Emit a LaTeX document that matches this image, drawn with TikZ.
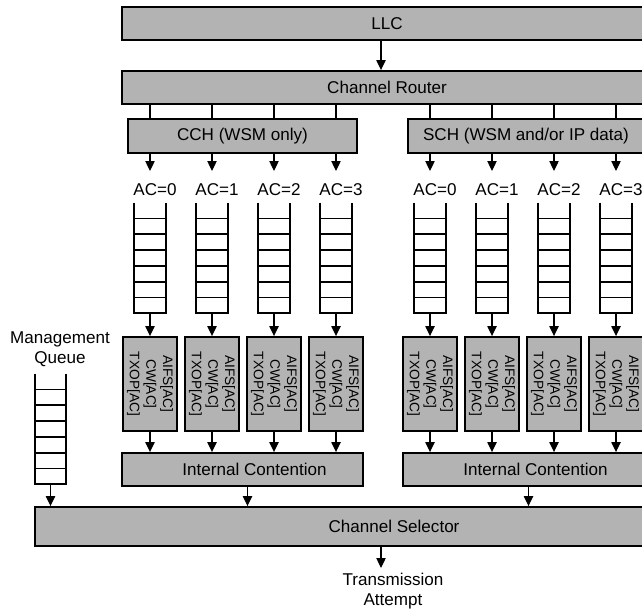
\documentclass[tikz,border=0pt]{standalone}
\usepackage{fontspec}
\setmainfont{Liberation Sans}
\usepackage{xcolor}
\usetikzlibrary{arrows.meta}
\usetikzlibrary{calc}
\definecolor{boxgray}{RGB}{179,179,179}

\tikzset{
  box/.style={draw=black, fill=boxgray, line width=1.4pt, inner sep=0pt, font=\fontsize{12.8}{15}\selectfont},
  parbox/.style={box, rotate=-90, align=center, minimum width=70.5pt, minimum height=40.5pt, font=\fontsize{10.3}{12.5}\selectfont},
  queue/.style={inner sep=0pt, minimum width=23.25pt, minimum height=82.5pt},
  lbl/.style={inner sep=0pt, align=center, font=\fontsize{12.8}{15}\selectfont},
  arr/.style={line width=0.9pt, -{Triangle[length=7.5pt,width=7pt]}},
  tick/.style={line width=1pt},
}

% open ladder: two rails, bottom and six rungs
\newcommand{\drawqueue}[1]{%
  \draw[line width=1.4pt] (#1.north west) -- (#1.south west) -- (#1.south east) -- (#1.north east);
  \foreach \r in {1,...,6}
    \draw[line width=1.4pt] ($(#1.north west)!\r/7!(#1.south west)$) -- ($(#1.north east)!\r/7!(#1.south east)$);
}

\begin{document}
\begin{tikzpicture}[x=0.75pt,y=-0.75pt]
  \useasboundingbox (0,0) rectangle (642,608);
  \clip (0,0) rectangle (642,608);
  \def\dx{62}

%top:
  \node[box, minimum width=397.5pt, minimum height=24.75pt] (llc) at (387,23.5) {LLC};
  \node[box, minimum width=397.5pt, minimum height=24.75pt] (router) at (387,87.5) {Channel Router};
  \coordinate (spine) at (381,0);
  \draw[arr] (llc.south -| spine) -- (router.north -| spine);

  \node[box, minimum width=171.75pt, minimum height=25.5pt] (cch) at (242.5,136) {CCH (WSM only)};
  \node[box, minimum width=177pt, minimum height=25.5pt] (sch) at (526,136) {SCH (WSM and/or IP data)};

  \node[box, minimum width=180.75pt, minimum height=24.75pt, label={[lbl, xshift=9pt]center:Internal Contention}] (ic0) at (242.5,469.5) {};
  \node[box, minimum width=180.75pt, minimum height=24.75pt, label={[lbl, xshift=9pt]center:Internal Contention}] (ic1) at (523.5,469.5) {};

  \node[box, minimum width=538.5pt, minimum height=29.25pt] (sel) at (394,526.5) {Channel Selector};

%access categories:
  \foreach \g/\gx/\chan/\ic in {0/150/cch/ic0, 1/430/sch/ic1} {
    \foreach \k in {0,...,3} {
      \pgfmathsetmacro{\cx}{\gx+\dx*\k}
      \node[queue] (q\g\k) at (\cx,258) {};
      \drawqueue{q\g\k}
      \node[lbl, anchor=north, text height=18pt] (ac\g\k) at (\cx+5,171) {AC=\k};
      \node[parbox] (p\g\k) at (\cx,384) {AIFS[AC]\\CW[AC]\\TXOP[AC]};
      \draw[tick] (router.south -| q\g\k) -- (\chan.north -| q\g\k);
      \draw[arr] (\chan.south -| q\g\k) -- (q\g\k |- ac\g\k.north);
      \draw[arr] (q\g\k.south) -- (p\g\k.west);
      \draw[arr] (p\g\k.east) -- (q\g\k |- \ic.north);
    }
  }
  \draw[arr] ([xshift=3.75pt]ic0.south) -- ([xshift=3.75pt]ic0.south |- sel.north);
  \draw[arr] ([xshift=3.75pt]ic1.south) -- ([xshift=3.75pt]ic1.south |- sel.north);

%management queue:
  \node[lbl] (mlbl) at (60,349) {Management\\Queue};
  \node[queue] (mq) at (50.5,429) {};
  \drawqueue{mq}
  \draw[arr] (mq.south) -- (mq.south |- sel.north);

%output:
  \node[lbl, anchor=north] (ta) at (393,573) {Transmission\\Attempt};
  \draw[arr, shorten >=3.75pt] (sel.south -| spine) -- (ta.north -| spine);

\end{tikzpicture}
\end{document}
